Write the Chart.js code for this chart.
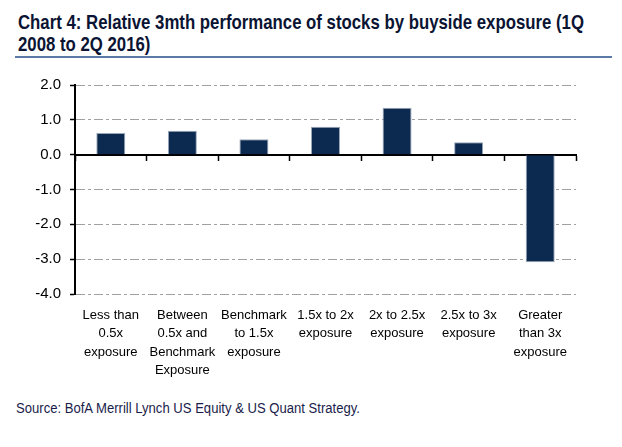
<!DOCTYPE html>
<html>
<head>
<meta charset="utf-8">
<script src="https://cdn.jsdelivr.net/npm/chart.js@4.4.1/dist/chart.umd.min.js"></script>
<style>
  html, body { margin: 0; padding: 0; background: #fff; }
  body { width: 622px; height: 447px; position: relative; overflow: hidden; }
  .fit {
    position: absolute; white-space: nowrap; transform-origin: 0 0;
    font-family: "Liberation Sans", Arial, sans-serif;
  }
  .title { font-weight: bold; font-size: 21px; line-height: 22px; color: #0b1433; }
  #rule { position: absolute; left: 15px; top: 56px; width: 597px; height: 2px; background: #5b7ba6; }
  #chartBox { position: absolute; left: 0; top: 60px; width: 622px; height: 340px; }
  #source { font-size: 14px; color: #1a1d4a; }
</style>
</head>
<body>
<div class="fit title" id="title1" style="left:18px; top:11px;" data-w="566">Chart 4: Relative 3mth performance of stocks by buyside exposure (1Q</div>
<div class="fit title" id="title2" style="left:18px; top:33px;">2008 to 2Q 2016)</div>
<div id="rule"></div>
<div id="chartBox"><canvas id="perfChart"></canvas></div>
<div class="fit" id="source" style="left:16px; top:400px;" data-w="344">Source: BofA Merrill Lynch US Equity &amp; US Quant Strategy.</div>

<script>
// Chart data
const categories = [
    ['Less than', '0.5x', 'exposure'],
    ['Between', '0.5x and', 'Benchmark', 'Exposure'],
    ['Benchmark', 'to 1.5x', 'exposure'],
    ['1.5x to 2x', 'exposure'],
    ['2x to 2.5x', 'exposure'],
    ['2.5x to 3x', 'exposure'],
    ['Greater', 'than 3x', 'exposure']
];
const performance = [0.62, 0.69, 0.44, 0.80, 1.35, 0.36, -3.09];
const yTicks = [-4, -3, -2, -1, 0, 1, 2];

const gridGrey = '#a0a0a0';

// squeeze the condensed-looking header/footer text to its width in the original
const t1 = document.getElementById('title1');
const squeeze = t1.dataset.w / t1.getBoundingClientRect().width;
t1.style.transform = `scaleX(${squeeze})`;
document.getElementById('title2').style.transform = `scaleX(${squeeze})`;
const src = document.getElementById('source');
src.style.transform = `scaleX(${src.dataset.w / src.getBoundingClientRect().width})`;

const config = {
    type: 'bar',
    data: {
        labels: categories,
        datasets: [{
            label: 'Relative 3mth performance',
            data: performance,
            backgroundColor: '#0c2a50',
            borderColor: '#9aa7b8',
            borderWidth: 1,
            categoryPercentage: 1,
            barPercentage: 0.405
        }]
    },
    options: {
        responsive: true,
        maintainAspectRatio: false,
        animation: false,
        layout: { padding: { top: 25, right: 46, left: 0, bottom: 0 } },
        plugins: {
            legend: { display: false },
            tooltip: { enabled: false }
        },
        scales: {
            x: {
                position: 'bottom',
                grid: { display: false, drawTicks: false },
                border: { display: false },
                ticks: {
                    color: '#000',
                    padding: 12,
                    maxRotation: 0,
                    autoSkip: false,
                    font: { family: '"Liberation Sans", Arial, sans-serif', size: 13, lineHeight: 1.415 }
                },
                afterFit: (scale) => { scale.height = 106; }
            },
            // zero line with small category ticks
            x2: {
                type: 'category',
                position: { y: 0 },
                grid: {
                    offset: true,
                    drawOnChartArea: false,
                    tickLength: 5,
                    tickColor: '#000',
                    tickWidth: 1.5
                },
                border: { display: true, color: '#000', width: 2 },
                ticks: { display: false }
            },
            y: {
                min: -4,
                max: 2,
                afterBuildTicks: (scale) => {
                    scale.ticks = yTicks.map(v => ({ value: v }));
                },
                grid: {
                    color: (ctx) => (ctx.tick && ctx.tick.value === 0) ? 'rgba(0,0,0,0)' : gridGrey,
                    lineWidth: 1,
                    tickLength: 5,
                    tickColor: '#000',
                    tickWidth: 1.5
                },
                border: {
                    display: true,
                    color: '#000',
                    width: 2,
                    dash: (ctx) => ctx.tick ? [9, 3, 3, 3] : []
                },
                ticks: {
                    color: '#000',
                    padding: 9,
                    font: { family: '"Liberation Sans", Arial, sans-serif', size: 15 },
                    callback: (v) => Number(v).toFixed(1)
                },
                afterFit: (scale) => { scale.width = 75; }
            }
        }
    }
};

const perfChart = new Chart(document.getElementById('perfChart'), config);
</script>
</body>
</html>
